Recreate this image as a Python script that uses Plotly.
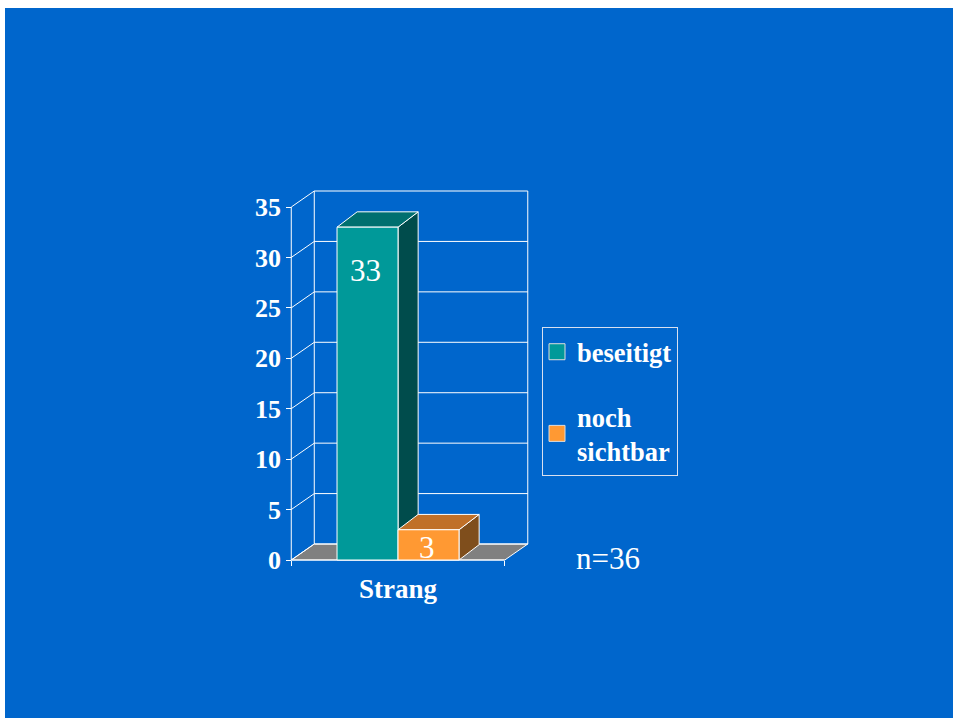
import plotly.graph_objects as go

# ---- data ---------------------------------------------------------------
categories = ["Strang"]
series_names = ["beseitigt", "noch<br>sichtbar"]
values = [33, 3]
y_ticks = [0, 5, 10, 15, 20, 25, 30, 35]
sample_note = "n=36"

# ---- styling --------------------------------------------------------------
BG = "#0066CC"
FRONT = ["#009999", "#FF9933"]
TOP = ["#006F6F", "#C07028"]
SIDE = ["#004C4C", "#7F4E1C"]
FLOOR = "#808080"
SERIF = "Liberation Serif, Times New Roman, serif"

# scale of the drawing (x in bar widths, y in values)
XMIN, XMAX = -6.443, 9.098
YMIN, YMAX = -15.665, 54.73
WALL_HALF = 1.75          # half width of the floor, in bar widths
DXW, DYW = 0.377, 1.586   # depth of the walls
DXB, DYB = 0.33, 1.52     # depth of the bars
LABEL_SHIFT = [-43, -18]  # pixel offset of the value labels from the bar tops

fig = go.Figure()


def poly(xs, ys, fill):
    return go.Scatter(
        x=list(xs) + [xs[0]], y=list(ys) + [ys[0]],
        mode="lines", fill="toself", fillcolor=fill,
        line=dict(color="white", width=1),
        hoverinfo="skip", showlegend=False,
    )


ymax = y_ticks[-1]
xl, xr = -WALL_HALF, WALL_HALF

# floor
fig.add_trace(poly([xl, xr, xr + DXW, xl + DXW], [0, 0, DYW, DYW], FLOOR))

# wall lines: back grid, side grid, wall edges, front axis lines
lx, ly = [], []
for v in y_ticks:
    lx += [xl + DXW, xr + DXW, None, xl, xl + DXW, None]
    ly += [v + DYW, v + DYW, None, v, v + DYW, None]
lx += [xl + DXW, xl + DXW, None, xr + DXW, xr + DXW, None, xl, xl, None, xl, xr]
ly += [DYW, ymax + DYW, None, DYW, ymax + DYW, None, 0, ymax, None, 0, 0]
fig.add_trace(go.Scatter(x=lx, y=ly, mode="lines",
                         line=dict(color="white", width=1),
                         hoverinfo="skip", showlegend=False))

# bars: side, top and front face of each
for i, v in enumerate(values):
    x0 = i - 1
    x1 = x0 + 1
    fig.add_trace(poly([x1, x1 + DXB, x1 + DXB, x1], [0, DYB, v + DYB, v], SIDE[i]))
    fig.add_trace(poly([x0, x1, x1 + DXB, x0 + DXB], [v, v, v + DYB, v + DYB], TOP[i]))
    fig.add_trace(poly([x0, x1, x1, x0], [0, 0, v, v], FRONT[i]))
    fig.add_annotation(x=(x0 + x1) / 2, y=v, text=str(v), showarrow=False,
                       yanchor="middle", yshift=LABEL_SHIFT[i], xshift=-2,
                       font=dict(family=SERIF, size=31, color="white"))

# legend entries
for i, name in enumerate(series_names):
    fig.add_trace(go.Scatter(
        x=[None], y=[None], mode="markers", name=name, legendgroup=str(i),
        marker=dict(symbol="square", size=18, color=FRONT[i],
                    line=dict(color="#DDDDDD", width=1)),
    ))

fig.add_annotation(x=3.45, y=0.3, text=sample_note, showarrow=False, yshift=-2,
                   font=dict(family=SERIF, size=31, color="white"))

fig.update_layout(
    width=953, height=718,
    margin=dict(l=5, r=0, t=8, b=0),
    paper_bgcolor="white", plot_bgcolor=BG,
    showlegend=True,
    legend=dict(
        x=(542 - 5) / 948, y=(718 - 327) / 710, xanchor="left", yanchor="top",
        bgcolor="rgba(0,0,0,0)", bordercolor="#D8E0F0", borderwidth=1,
        font=dict(family=SERIF, size=26.5, color="white", weight="bold"),
        tracegroupgap=27, itemsizing="trace", indentation=-6,
    ),
    xaxis=dict(
        range=[XMIN, XMAX], domain=[0, 1], anchor="free",
        position=(0 - YMIN) / (YMAX - YMIN),
        tickvals=[0], ticktext=categories, ticks="", showline=False,
        showgrid=False, zeroline=False, ticklabelstandoff=10,
        tickfont=dict(family=SERIF, size=27, color="white", weight="bold"),
        minor=dict(tickvals=[xl, xr], ticks="outside", ticklen=5, tickcolor="white"),
    ),
    yaxis=dict(
        range=[YMIN, YMAX], domain=[0, 1], anchor="free",
        position=(xl - XMIN) / (XMAX - XMIN),
        tickvals=y_ticks, ticks="outside", ticklen=5, tickcolor="white",
        showline=False, showgrid=False, zeroline=False,
        tickfont=dict(family=SERIF, size=26, color="white", weight="bold"),
    ),
)

fig.write_html("out.html")
